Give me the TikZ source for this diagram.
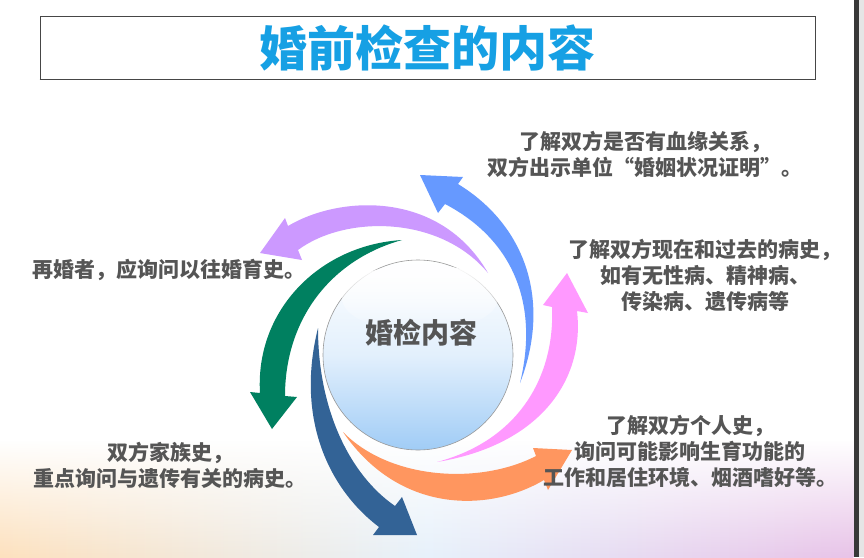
\documentclass[tikz,border=0pt]{standalone}
\usepackage{fontspec}
\usepackage{tikz}
\usetikzlibrary{fadings}
\newfontfamily\cjk{Noto Sans CJK SC}[Script=CJK, Language=Chinese Simplified]
\definecolor{titleBlue}{RGB}{22, 160, 228}
\definecolor{textGray}{RGB}{85, 85, 85}
\definecolor{boxGray}{RGB}{70, 70, 70}
\definecolor{hubBlue}{RGB}{160, 204, 246}
\definecolor{arrowBlue}{RGB}{102, 153, 255}
\definecolor{arrowViolet}{RGB}{204, 153, 255}
\definecolor{arrowGreen}{RGB}{0, 128, 96}
\definecolor{arrowNavy}{RGB}{51, 99, 150}
\definecolor{arrowOrange}{RGB}{255, 150, 95}
\definecolor{arrowPink}{RGB}{255, 153, 255}
\definecolor{glowPeach}{RGB}{253, 225, 190}
\definecolor{glowBlue}{RGB}{215, 232, 248}
\definecolor{glowLilac}{RGB}{232, 195, 232}

\tikzset{
  note/.style={font=\cjk\bfseries\fontsize{21}{26}\selectfont, text=textGray, align=center, inner sep=0pt},
  titlebox/.style={draw=boxGray, fill=white, line width=0.8pt, minimum width=775pt, minimum height=63pt, inner sep=0pt, font=\cjk\bfseries\fontsize{48}{48}\selectfont, text=titleBlue},
  hub/.style={circle, draw=gray!80, line width=0.6pt, minimum size=190pt, inner sep=0pt, top color=white, bottom color=hubBlue, middle color=hubBlue!30!white},
}

\begin{document}
\begin{tikzpicture}[x=1pt, y=-1pt]
        \useasboundingbox (0,0) rectangle (864,557);
        \fill[white] (0,0) rectangle (864,557);
        \shade[left color=glowPeach, right color=glowLilac, middle color=glowBlue!60!white, path fading=north] (0,440) rectangle (854,557);
        \fill[boxGray!80!black] (854,0) rectangle (859,557);
        \fill[gray!20] (859,0) rectangle (864,557);

        \node[titlebox] (title) at (427.5,47.5) {\raisebox{-2pt}{婚前检查的内容}};
        \draw[boxGray, line width=1.6pt] (title.south west) -- (title.south east);

        \fill[arrowBlue] (520,383) .. controls (552,300) and (525,225) .. (458,184) -- (463,177) -- (420,175) -- (438,213) -- (445,204) .. controls (510,238) and (540,300) .. (520,383) -- cycle;
        \fill[arrowViolet] (488,273) .. controls (440,215) and (345,215) .. (298,250) -- (302,260) -- (260,253) -- (285,218) -- (288,226) .. controls (340,195) and (440,190) .. (488,273) -- cycle;
        \fill[arrowGreen] (402,240) .. controls (320,245) and (255,310) .. (260,393) -- (250,392) -- (272,429) -- (297,397) -- (285,396) .. controls (285,320) and (330,260) .. (402,240) -- cycle;
        \fill[arrowNavy] (318,328) .. controls (295,420) and (330,490) .. (379,527) -- (373,535) -- (417,535) -- (402,497) -- (395,506) .. controls (350,475) and (318,410) .. (318,328) -- cycle;
        \fill[arrowOrange] (343,432) .. controls (390,480) and (480,485) .. (536,456) -- (533,448) -- (572,450) -- (548,490) -- (544,480) .. controls (490,512) and (400,515) .. (343,432) -- cycle;
        \fill[arrowPink] (437,462) .. controls (520,440) and (555,375) .. (552,307) -- (543,305) -- (567,273) -- (588,313) -- (577,311) .. controls (585,380) and (540,445) .. (437,462) -- cycle;

        \node[hub] (hub) at (418,355) {};
        \fill[white, path fading=south] (420,298) ellipse [x radius=78, y radius=34];
        \node[font=\cjk\bfseries\fontsize{28}{28}\selectfont, text=textGray, inner sep=0pt] (hubtext) at (421,333) {婚检内容};

        \node[note] (kin) at (645,154) {了解双方是否有血缘关系，\\双方出示单位“婚姻状况证明”。};
        \node[note] (illness) at (705,275) {了解双方现在和过去的病史，\\如有无性病、精神病、\\传染病、遗传病等};
        \node[note] (remarry) at (169,270) {再婚者，应询问以往婚育史。};
        \node[note] (family) at (170,465) {双方家族史，\\重点询问与遗传有关的病史。};
        \node[note] (personal) at (690,451) {了解双方个人史，\\询问可能影响生育功能的\\工作和居住环境、烟酒嗜好等。};
      \end{tikzpicture}
\end{document}
